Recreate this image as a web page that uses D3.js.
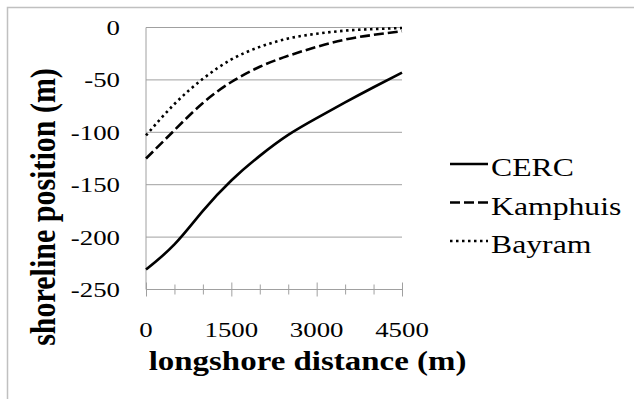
<!DOCTYPE html>
<html>
<head>
<meta charset="utf-8">
<script src="https://cdn.jsdelivr.net/npm/d3@7"></script>
<style>
body { margin: 0; background: #fff; }
svg text { font-family: "Liberation Serif", "Times New Roman", serif; fill: #000; }
</style>
</head>
<body>
<div id="container"></div>
<script>

// values, one per 500 m category
var distance = [0, 500, 1000, 1500, 2000, 2500, 3000, 3500, 4000, 4500];
var cerc = [-231, -207, -175, -146, -122.5, -102.5, -86.5, -71.5, -57, -43];
var kamphuis = [-125, -98, -72, -52, -37.5, -27, -18.5, -11.5, -7, -3.5];
var bayram = [-103, -73, -49, -30.5, -18.5, -10.5, -6, -3, -1.5, -0.5];
var seriesNames = ["CERC", "Kamphuis", "Bayram"];
var yTicks = [0, -50, -100, -150, -200, -250];
var xLabels = [0, 1500, 3000, 4500];

var width = 634,
    height = 399,
    sx = 1.22; // the text in the picture is stretched sideways

var svg = d3.select("#container")
    .append("svg")
    .attr("width", width)
    .attr("height", height);

var x = d3.scaleLinear().domain([0, 4500]).range([146, 402]);
var y = d3.scaleLinear().domain([-250, 0]).range([289.5, 27.5]);

// outer frame (only top and left are visible)
svg.append("path")
    .attr("d", "M7.5," + height + "V7.5H" + width)
    .attr("fill", "none")
    .attr("stroke", "#c0c0c0")
    .attr("stroke-width", 1.5);

// gridlines
svg.append("g")
    .selectAll("line")
    .data(yTicks.filter(function (d) { return d > -250 }))
    .enter()
    .append("line")
    .attr("x1", x(0)).attr("x2", x(4500))
    .attr("y1", function (d) { return y(d) })
    .attr("y2", function (d) { return y(d) })
    .attr("stroke", "#a0a0a0")
    .attr("stroke-width", 1);

// y axis line
svg.append("line")
    .attr("x1", x(0)).attr("x2", x(0))
    .attr("y1", y(0)).attr("y2", y(-250))
    .attr("stroke", "#a0a0a0");

// x axis, ticks cross the line
var xAxis = svg.append("g")
    .attr("transform", "translate(0," + y(-250) + ")")
    .call(d3.axisBottom(x).tickValues(distance).tickSize(6).tickFormat(""));
xAxis.select(".domain").attr("stroke", "#a0a0a0").attr("d", "M" + x(0) + ",0H" + x(4500));
xAxis.selectAll(".tick line")
    .attr("stroke", "#a0a0a0")
    .attr("y1", function (d) { return d % 1500 == 0 ? -7 : -5 })
    .attr("y2", function (d) { return d % 1500 == 0 ? 7 : 5 });

// tick labels
svg.append("g")
    .selectAll("text")
    .data(yTicks)
    .enter()
    .append("text")
    .attr("transform", function (d) { return "translate(120," + (y(d) + 7.5) + ") scale(" + sx + ",1)" })
    .attr("text-anchor", "end")
    .style("font-size", "22px")
    .text(function (d) { return String(d) });

svg.append("g")
    .selectAll("text")
    .data(xLabels)
    .enter()
    .append("text")
    .attr("transform", function (d) { return "translate(" + x(d) + ",337) scale(" + sx + ",1)" })
    .attr("text-anchor", "middle")
    .style("font-size", "22px")
    .text(function (d) { return String(d) });

// axis titles
svg.append("text")
    .attr("transform", "translate(307.5,370) scale(" + sx + ",1)")
    .attr("text-anchor", "middle")
    .style("font-size", "27px")
    .style("font-weight", "bold")
    .text("longshore distance (m)");

svg.append("text")
    .attr("transform", "translate(55,207) scale(" + sx + ",1) rotate(-90)")
    .attr("text-anchor", "middle")
    .style("font-size", "30px")
    .style("font-weight", "bold")
    .text("shoreline position (m)");

// series
var series = [cerc, kamphuis, bayram];
var dashes = ["none", "10,4", "2.5,3.5"];

var line = d3.line()
    .x(function (d, i) { return x(distance[i]) })
    .y(function (d) { return y(d) })
    .curve(d3.curveNatural);

svg.append("g")
    .selectAll("path")
    .data(series)
    .enter()
    .append("path")
    .attr("d", line)
    .attr("fill", "none")
    .attr("stroke", "#000")
    .attr("stroke-width", 2.6)
    .attr("stroke-dasharray", function (d, i) { return dashes[i] });

// legend
var legend = svg.append("g")
    .selectAll("g")
    .data(seriesNames)
    .enter()
    .append("g")
    .attr("transform", function (d, i) { return "translate(0," + (164 + i * 38.5) + ")" });

legend.append("line")
    .attr("x1", 450).attr("x2", 488)
    .attr("stroke", "#000")
    .attr("stroke-width", 2.6)
    .attr("stroke-dasharray", function (d, i) { return dashes[i] });

legend.append("text")
    .attr("transform", "translate(491,12) scale(" + sx + ",1)")
    .style("font-size", "26px")
    .text(function (d) { return d });

</script>
</body>
</html>
